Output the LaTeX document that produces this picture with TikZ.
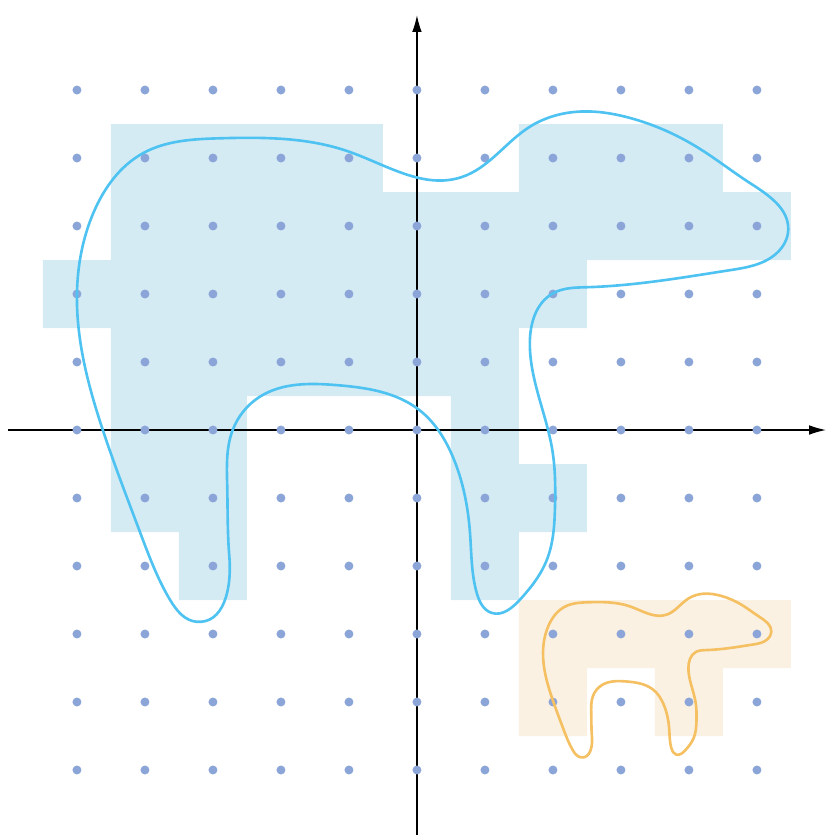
\documentclass[tikz,border=0pt]{standalone}
\usepackage{xcolor}
\usepackage{tikz}
\usetikzlibrary{arrows.meta,hobby}
\definecolor{cellblue}{HTML}{D5EBF4}
\definecolor{cellsand}{HTML}{FAF1E3}
\definecolor{curveblue}{HTML}{4EC3F1}
\definecolor{curvesand}{HTML}{F5C062}
\definecolor{dotblue}{HTML}{8CA5D8}

\newcommand{\blobpath}{plot[closed hobby] coordinates {
  (0.66,3.72) (1.66,4.46) (2.35,4.68) (3.13,4.59) (4.12,4.16) (4.90,3.63)
  (5.46,2.94) (5.29,2.60) (4.60,2.35) (2.50,2.10) (2.00,2.01) (1.66,1.28)
  (1.99,-0.29) (2.03,-1.13) (1.91,-1.91) (1.51,-2.50) (1.10,-2.69)
  (0.88,-2.40) (0.78,-1.51) (0.53,-0.40) (0.04,0.29) (-1.18,0.66)
  (-2.31,0.49) (-2.71,0) (-2.79,-0.84) (-2.76,-1.85) (-3.24,-2.82)
  (-3.63,-2.50) (-4.07,-1.51) (-4.62,0) (-5.00,2.01) (-4.76,3.19)
  (-4.03,4.07) (-2.90,4.29) (-0.99,4.09)}}

\begin{document}
\begin{tikzpicture}[
  axis/.style={-{Latex[length=7pt,width=4pt]}, line width=0.5pt, black},
  latticedot/.style={fill=dotblue},
  blob/.style={line width=1.1pt, line join=round}
]
  \useasboundingbox (-6.132,-5.956) rectangle (6.015,6.324);

  \fill[cellblue] (-4.5,4.5) -- (-0.5,4.5) -- (-0.5,3.5) -- (1.5,3.5)
    -- (1.5,4.5) -- (4.5,4.5) -- (4.5,3.5) -- (5.5,3.5) -- (5.5,2.5)
    -- (2.5,2.5) -- (2.5,1.5) -- (1.5,1.5) -- (1.5,-0.5) -- (2.5,-0.5)
    -- (2.5,-1.5) -- (1.5,-1.5) -- (1.5,-2.5) -- (0.5,-2.5) -- (0.5,0.5)
    -- (-2.5,0.5) -- (-2.5,-2.5) -- (-3.5,-2.5) -- (-3.5,-1.5)
    -- (-4.5,-1.5) -- (-4.5,1.5) -- (-5.5,1.5) -- (-5.5,2.5) -- (-4.5,2.5)
    -- cycle;
  \fill[cellsand] (1.5,-2.5) -- (5.5,-2.5) -- (5.5,-3.5) -- (4.5,-3.5)
    -- (4.5,-4.5) -- (3.5,-4.5) -- (3.5,-3.5) -- (2.5,-3.5) -- (2.5,-4.5)
    -- (1.5,-4.5) -- cycle;

  \draw[axis] (-6.01,0) -- (6.015,0);
  \draw[axis] (0,-5.956) -- (0,6.10);

  \foreach \x in {-5,...,5}
    \foreach \y in {-5,...,5}
      \fill[latticedot] (\x,\y) circle (0.066);

  \draw[blob, curveblue] \blobpath;
  \begin{scope}[shift={(3.459,-3.91)}, scale=0.321]
    \draw[blob, curvesand] \blobpath;
  \end{scope}
\end{tikzpicture}
\end{document}
